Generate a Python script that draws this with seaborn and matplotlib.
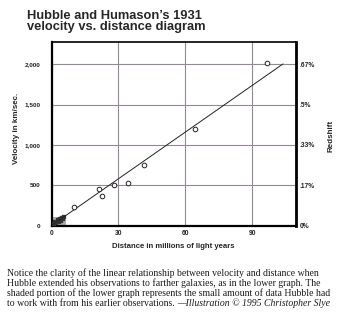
import matplotlib
matplotlib.use("Agg")
import matplotlib.pyplot as plt
import matplotlib.patches as mpatches
import seaborn as sns
import pandas as pd

# ---- data ----
distance = [96.5, 64.5, 41.4, 34.3, 28.0, 21.3, 22.6, 10.0]
velocity = [2010, 1200, 750, 527, 502, 453, 366, 225]
early_distance = [1.0, 1.6, 2.2, 2.8, 3.3, 3.8, 4.3, 4.8, 5.3, 5.8]
early_velocity = [15, 45, 25, 70, 40, 85, 60, 95, 75, 100]
fit_distance = [0.0, 103.7]
fit_velocity = [0.0, 2004]
x_ticks = [0, 30, 60, 90]
y_ticks = [0, 500, 1000, 1500, 2000]
y_labels = ["0", "500", "1,000", "1,500", "2,000"]
z_labels = ["0%", ".17%", ".33%", ".5%", ".67%"]
early_box = (6.5, 110)  # extent of the shaded early-data region

sns.set_style("white")
plt.rcParams["font.family"] = ["Liberation Sans", "DejaVu Sans"]

W, H = 346, 322
fig = plt.figure(figsize=(W / 100, H / 100), dpi=100)
ax = fig.add_axes([51.5 / W, 1 - 225.5 / H, 244 / W, 183.5 / H])

grid_c = "#948796"
ax.set_xlim(0, 109.3)
ax.set_ylim(0, 2276)
ax.set_xticks(x_ticks)
ax.set_yticks(y_ticks)
ax.set_xticklabels([str(v) for v in x_ticks], fontsize=4.8, fontweight="bold", color="#222222")
ax.set_yticklabels(y_labels, fontsize=4.6, fontweight="bold", color="#222222")
ax.grid(True, color=grid_c, lw=0.8)
ax.tick_params(length=0, pad=8)
ax.tick_params(axis="x", pad=3)

# shaded early-data region
ax.add_patch(mpatches.Rectangle((0, 0), early_box[0], early_box[1],
                                facecolor="#b7a9a9", edgecolor="none", zorder=2))

df_early = pd.DataFrame({"d": early_distance, "v": early_velocity})
sns.scatterplot(data=df_early, x="d", y="v", ax=ax, s=5, color="#333333",
                edgecolor="#333333", marker="s", zorder=3, legend=False)

df_fit = pd.DataFrame({"d": fit_distance, "v": fit_velocity})
sns.lineplot(data=df_fit, x="d", y="v", ax=ax, color="#222222", lw=0.7, zorder=4)

df = pd.DataFrame({"d": distance, "v": velocity})
sns.scatterplot(data=df, x="d", y="v", ax=ax, s=11, facecolor="white",
                edgecolor="#222222", linewidth=0.7, zorder=5, legend=False)

ax.set_xlabel("")
ax.set_ylabel("")
for side, lw in [("left", 1.6), ("bottom", 1.6), ("top", 1.2), ("right", 2.0)]:
    ax.spines[side].set_visible(True)
    ax.spines[side].set_color("black")
    ax.spines[side].set_linewidth(lw)

ax2 = ax.twinx()
ax2.set_ylim(ax.get_ylim())
ax2.set_yticks(y_ticks)
ax2.set_yticklabels(z_labels, fontsize=4.8, fontweight="bold", color="#222222")
ax2.tick_params(length=0, pad=3)
for s in ax2.spines.values():
    s.set_visible(False)

# axis labels
fig.text(17 / W, 1 - 128 / H, "Velocity in km/sec.", rotation=90, ha="center", va="center",
         fontsize=5.8, fontweight="bold")
fig.text(331 / W, 1 - 136 / H, "Redshift", rotation=90, ha="center", va="center",
         fontsize=5.8, fontweight="bold")
fig.text(173 / W, 1 - 247 / H, "Distance in millions of light years", ha="center", va="center",
         fontsize=5.6, fontweight="bold")

# title
fig.text(27 / W, 1 - 19 / H, "Hubble and Humason\u2019s 1931", ha="left", va="baseline",
         fontsize=9.3, fontweight="bold")
fig.text(27 / W, 1 - 30 / H, "velocity vs. distance diagram", ha="left", va="baseline",
         fontsize=9.3, fontweight="bold")

# caption
cap = [
    "Notice the clarity of the linear relationship between velocity and distance when",
    "Hubble extended his observations to farther galaxies, as in the lower graph. The",
    "shaded portion of the lower graph represents the small amount of data Hubble had",
    "to work with from his earlier observations. ",
]
serif = ["Liberation Serif", "DejaVu Serif"]
base = [276, 286, 296, 306]
last = None
for line, yb in zip(cap, base):
    last = fig.text(7 / W, 1 - yb / H, line, ha="left", va="baseline",
                    fontsize=7.0, family=serif, color="#1a1a1a")
fig.canvas.draw()
bb = last.get_window_extent()
fig.text(bb.x1 / W, 1 - 306 / H, "\u2014Illustration \u00a9 1995 Christopher Slye",
         ha="left", va="baseline", fontsize=7.0, family=serif, style="italic", color="#1a1a1a")

fig.savefig("out.png", dpi=100)
